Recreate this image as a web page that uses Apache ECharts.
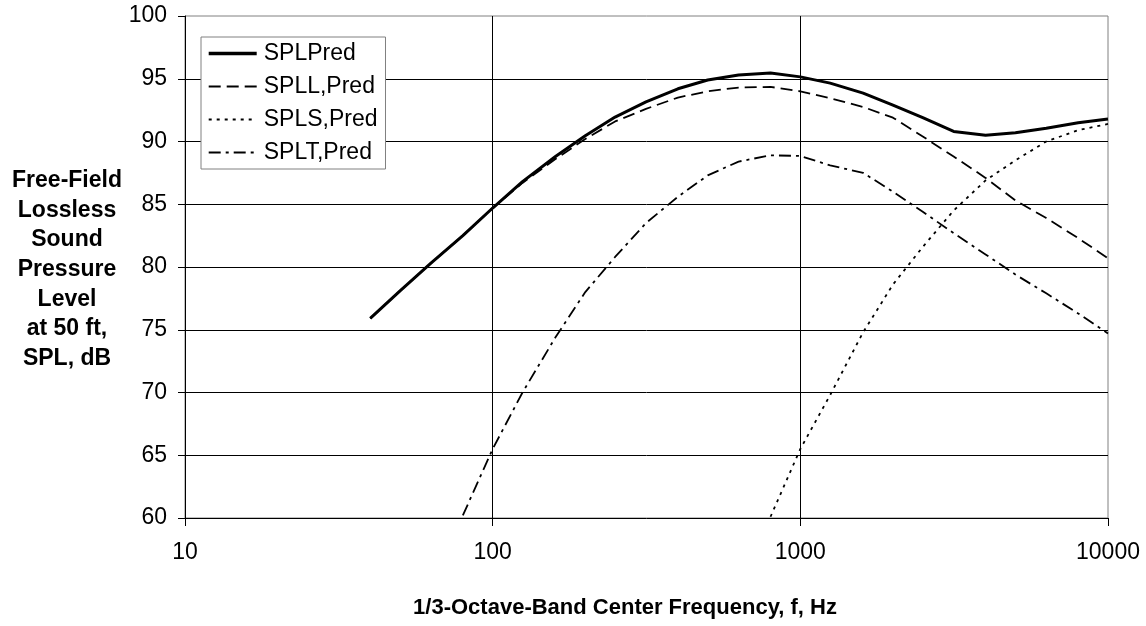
<!DOCTYPE html>
<html>
<head>
<meta charset="utf-8">
<script src="https://cdn.jsdelivr.net/npm/echarts@6/dist/echarts.min.js"></script>
<style>
  html, body { margin: 0; padding: 0; background: #fff; }
  #chart { width: 1146px; height: 626px; }
</style>
</head>
<body>
<div id="chart"></div>
<script>
// 1/3-octave band centre frequencies, Hz
const freqs = [40, 50, 63, 80, 100, 125, 160, 200, 250, 315, 400, 500, 630, 800,
               1000, 1250, 1600, 2000, 2500, 3150, 4000, 5000, 6300, 8000, 10000];

// Total predicted level, dB
const splPred = [75.9, 78.1, 80.3, 82.5, 84.7, 86.8, 88.8, 90.45, 91.95, 93.15, 94.2, 94.9, 95.3, 95.45,
                 95.15, 94.65, 93.85, 92.9, 91.9, 90.8, 90.5, 90.7, 91.05, 91.5, 91.8];
// Component levels, dB (null where below the plotted range)
const splLPred = [75.9, 78.1, 80.3, 82.5, 84.7, 86.7, 88.6, 90.2, 91.6, 92.6, 93.5, 94.0, 94.3, 94.35,
                  94.0, 93.45, 92.75, 91.9, 90.4, 88.8, 87.1, 85.3, 83.9, 82.3, 80.7];
const splSPred = [null, null, null, null, null, null, null, null, null, null, null, null, null, 60.1,
                  65.5, 69.8, 74.8, 78.6, 81.6, 84.5, 86.9, 88.5, 90.0, 90.9, 91.4];
const splTPred = [null, null, null, 60.2, 65.5, 70.0, 74.4, 78.0, 80.8, 83.5, 85.6, 87.3, 88.4, 88.9,
                  88.85, 88.1, 87.5, 86.0, 84.4, 82.7, 81.0, 79.4, 77.9, 76.3, 74.7];

const seriesNames = ['SPLPred', 'SPLL,Pred', 'SPLS,Pred', 'SPLT,Pred'];
const lineWidths = [3, 1.8, 1.8, 1.8];
const dashes = ['solid', [12, 6], [3, 5], [12, 5, 3, 5]];
const yTitleLines = ['Free-Field', 'Lossless', 'Sound', 'Pressure', 'Level', 'at 50 ft,', 'SPL, dB'];
const xTitle = '1/3-Octave-Band Center Frequency, f, Hz';

const FONT = '"Liberation Sans", Arial, sans-serif';

function pairs(values) {
  return freqs.map((f, i) => [f, values[i]]).filter(p => p[1] !== null);
}

function lineSeries(idx, values) {
  return {
    name: seriesNames[idx],
    type: 'line',
    data: pairs(values),
    symbol: 'none',
    smooth: false,
    clip: true,
    lineStyle: { color: '#000', width: lineWidths[idx], type: dashes[idx] },
    itemStyle: { color: '#000' },
    emphasis: { disabled: true },
    z: 3
  };
}

const chart = echarts.init(document.getElementById('chart'), null, { renderer: 'canvas' });

chart.setOption({
  animation: false,
  backgroundColor: '#fff',
  textStyle: { fontFamily: FONT, color: '#000' },
  grid: {
    left: 185, right: 38, top: 16, bottom: 108,
    show: true, borderColor: '#808080', borderWidth: 1, backgroundColor: 'transparent'
  },
  legend: {
    orient: 'vertical',
    left: 201, top: 37,
    data: seriesNames.map((name, i) => ({
      name: name,
      lineStyle: { color: '#000', width: lineWidths[i] + 0.4, type: dashes[i] }
    })),
    backgroundColor: '#fff',
    borderColor: '#808080',
    borderWidth: 1,
    padding: [5, 8, 5, 6],
    itemWidth: 48,
    itemHeight: 14,
    itemGap: 10,
    selectedMode: false,
    itemStyle: { opacity: 0 },
    textStyle: { fontFamily: FONT, fontSize: 23, color: '#000', padding: [0, 0, 0, 2] }
  },
  xAxis: {
    type: 'log',
    logBase: 10,
    min: 10,
    max: 10000,
    axisLine: { show: true, lineStyle: { color: '#000', width: 1 } },
    axisTick: { show: true, inside: false, length: 8, lineStyle: { color: '#000' } },
    minorTick: { show: false },
    axisLabel: {
      fontFamily: FONT, fontSize: 23, color: '#000', margin: 23,
      formatter: v => String(Math.round(v))
    },
    splitLine: { show: true, showMinLine: false, showMaxLine: false, lineStyle: { color: '#000', width: 1 } }
  },
  yAxis: {
    type: 'value',
    min: 60,
    max: 100,
    interval: 5,
    axisLine: { show: true, lineStyle: { color: '#000', width: 1 } },
    axisTick: { show: true, inside: false, length: 7, lineStyle: { color: '#000' } },
    axisLabel: { fontFamily: FONT, fontSize: 23, color: '#000', margin: 18 },
    splitLine: { show: true, showMinLine: false, showMaxLine: false, lineStyle: { color: '#000', width: 1 } }
  },
  series: [
    lineSeries(0, splPred),
    lineSeries(1, splLPred),
    lineSeries(2, splSPred),
    lineSeries(3, splTPred)
  ],
  graphic: [
    {
      type: 'text',
      x: 67, y: 166,
      style: {
        text: yTitleLines.join('\n'),
        align: 'center',
        verticalAlign: 'top',
        fontFamily: FONT, fontSize: 23, fontWeight: 'bold',
        lineHeight: 29.6,
        fill: '#000'
      }
    },
    {
      type: 'text',
      x: 625, y: 608,
      style: {
        text: xTitle,
        align: 'center',
        verticalAlign: 'middle',
        fontFamily: FONT, fontSize: 22, fontWeight: 'bold',
        fill: '#000'
      }
    }
  ]
});
</script>
</body>
</html>
